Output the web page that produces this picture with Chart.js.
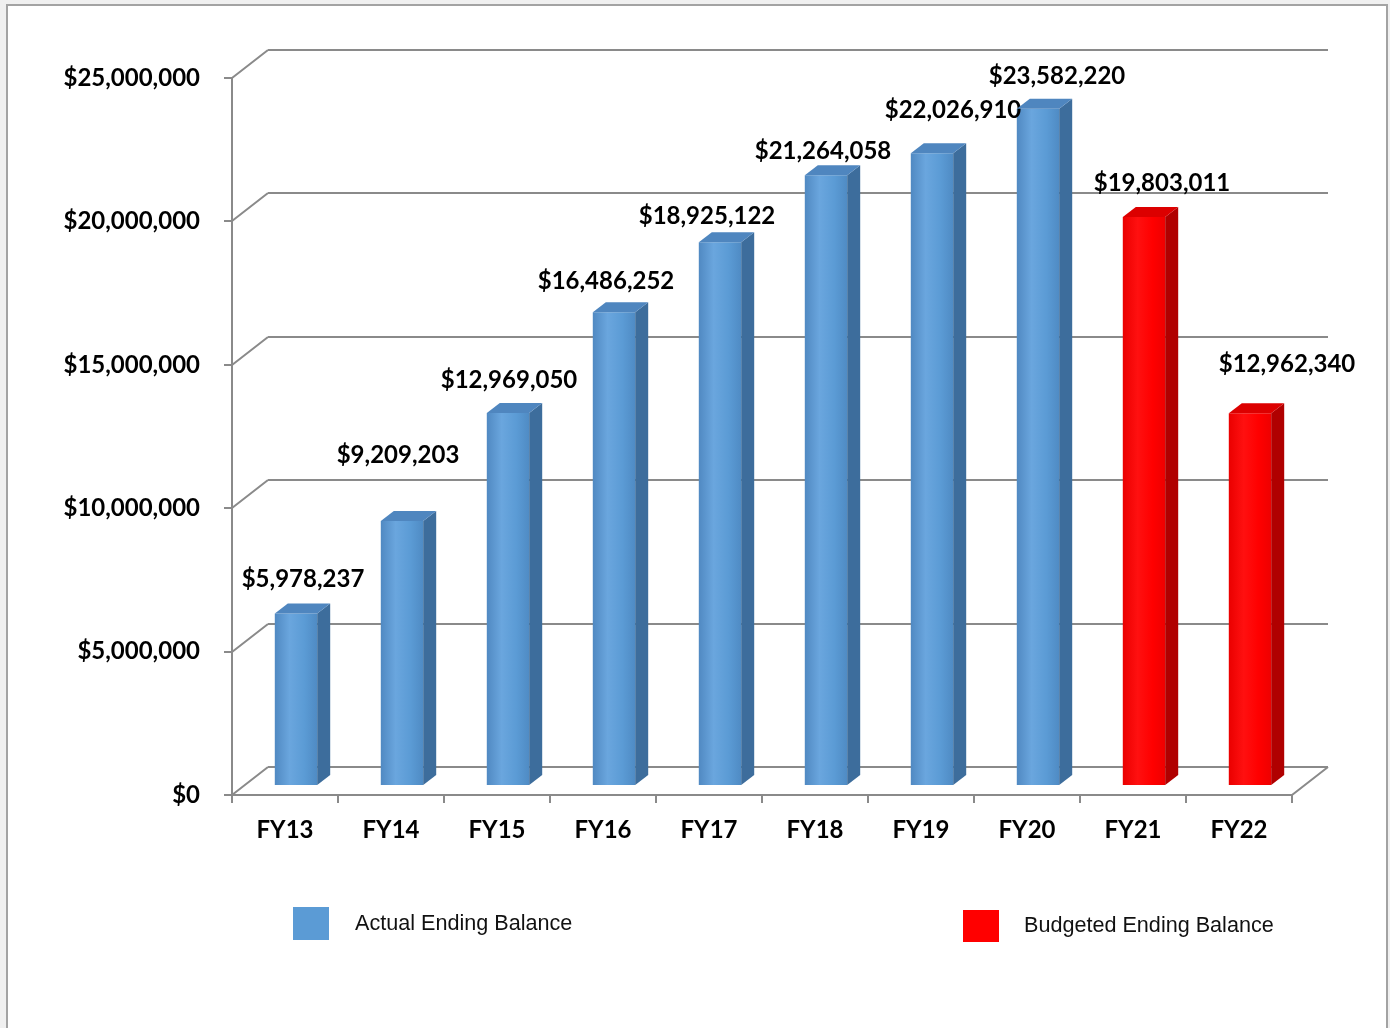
<!DOCTYPE html>
<html><head><meta charset="utf-8">
<script src="https://cdn.jsdelivr.net/npm/chart.js@4"></script>
<style>
html,body{margin:0;padding:0;background:#f0f0f0;overflow:hidden;width:1390px;height:1028px;}
#frame{position:absolute;left:6px;top:4px;width:1378px;height:1060px;border:2px solid #a3a3a3;background:#fff;}
#c{position:absolute;left:0;top:0;}
</style></head><body>
<div id="frame"></div>
<canvas id="c" width="1390" height="1028"></canvas>
<script>
// ---- data ----
const categories = ['FY13','FY14','FY15','FY16','FY17','FY18','FY19','FY20','FY21','FY22'];
const actualBalance = [5978237, 9209203, 12969050, 16486252, 18925122, 21264058, 22026910, 23582220, null, null];
const budgetedBalance = [null, null, null, null, null, null, null, null, 19803011, 12962340];
const seriesNames = ['Actual Ending Balance', 'Budgeted Ending Balance'];
const yTickValues = [0, 5000000, 10000000, 15000000, 20000000, 25000000];

// ---- presentation (not data) ----
const labelNudge = [[18,-24],[7,-56],[12,-23],[3,-21],[-2,-16],[8,-14],[32,-33],[30,-22],[29,-24],[48,-39]];
const WALL_DX = 36, WALL_DY = 28;   // depth of back wall
const BAR_SX = 11, BAR_SY = 10;     // bar front-face shift into depth
const BAR_DX = 13, BAR_DY = 10;     // bar depth
const BOLD = 'Lato';
const palette = {
  blue: {front: ['#5089c2', '#6aa6de', '#5b9bd5', '#4f8bc4'], side: '#3d6d9c', top: '#4f86bf', legend: '#5b9bd5'},
  red:  {front: ['#ea0000', '#ff1010', '#ff0000', '#ee0000'], side: '#b00000', top: '#dc0000', legend: '#ff0000'}
};

function money(v){ return '$' + Number(v).toLocaleString('en-US'); }

function frontGradient(pal){
  return function(c){
    const chart = c.chart;
    const xs = chart.scales.x;
    if (!xs || !chart.chartArea) return pal.front[2];
    const cx = xs.getPixelForValue(c.dataIndex);
    const w = (xs.right - xs.left) / categories.length * 0.4;
    const g = chart.ctx.createLinearGradient(cx - w/2, 0, cx + w/2, 0);
    g.addColorStop(0, pal.front[0]);
    g.addColorStop(0.35, pal.front[1]);
    g.addColorStop(0.7, pal.front[2]);
    g.addColorStop(1, pal.front[3]);
    return g;
  };
}

const threeD = {
  id: 'threeD',
  beforeDatasetsDraw(chart){
    const {ctx, chartArea: a, scales: {x, y}} = chart;
    ctx.save();
    ctx.strokeStyle = '#8a8a8a';
    ctx.lineWidth = 2;
    ctx.lineCap = 'butt';
    yTickValues.forEach(v => {
      const py = Math.round(y.getPixelForValue(v));
      ctx.beginPath();
      ctx.moveTo(a.left + WALL_DX, py - WALL_DY);
      ctx.lineTo(a.right + WALL_DX, py - WALL_DY);
      ctx.moveTo(a.left, py);
      ctx.lineTo(a.left + WALL_DX, py - WALL_DY);
      ctx.moveTo(a.left - 8, py);
      ctx.lineTo(a.left, py);
      ctx.stroke();
    });
    const y0 = Math.round(y.getPixelForValue(0));
    const yTop = Math.round(y.getPixelForValue(yTickValues[yTickValues.length-1]));
    ctx.beginPath();
    ctx.moveTo(a.left, yTop);
    ctx.lineTo(a.left, y0);
    ctx.moveTo(a.left, y0);
    ctx.lineTo(a.right, y0);
    ctx.lineTo(a.right + WALL_DX, y0 - WALL_DY);
    ctx.stroke();
    ctx.beginPath();
    const n = categories.length;
    for (let i = 0; i <= n; i++) {
      const px = Math.round(x.left + i * (x.right - x.left) / n);
      ctx.moveTo(px, y0);
      ctx.lineTo(px, y0 + 8);
    }
    ctx.stroke();
    ctx.restore();
    ctx.save();
    ctx.translate(BAR_SX, -BAR_SY);
  },
  afterDatasetsDraw(chart){
    const {ctx} = chart;
    ctx.restore();
    const pals = [palette.blue, palette.red];
    chart.data.datasets.forEach((ds, di) => {
      const meta = chart.getDatasetMeta(di);
      const pal = pals[di];
      meta.data.forEach((el, i) => {
        if (ds.data[i] == null) return;
        const p = el.getProps(['x','y','base','width'], true);
        const l = p.x - p.width/2 + BAR_SX, r = p.x + p.width/2 + BAR_SX;
        const t = p.y - BAR_SY, b = p.base - BAR_SY;
        ctx.fillStyle = pal.side;
        ctx.beginPath();
        ctx.moveTo(r, t); ctx.lineTo(r + BAR_DX, t - BAR_DY);
        ctx.lineTo(r + BAR_DX, b - BAR_DY); ctx.lineTo(r, b); ctx.closePath();
        ctx.fill();
        ctx.fillStyle = pal.top;
        ctx.beginPath();
        ctx.moveTo(l, t); ctx.lineTo(r, t);
        ctx.lineTo(r + BAR_DX, t - BAR_DY); ctx.lineTo(l + BAR_DX, t - BAR_DY); ctx.closePath();
        ctx.fill();
        const nud = labelNudge[i];
        ctx.save();
        ctx.font = 'bold 24px ' + BOLD;
        ctx.fillStyle = '#000';
        ctx.textAlign = 'center';
        ctx.textBaseline = 'middle';
        ctx.fillText(money(ds.data[i]), p.x + nud[0], t - BAR_DY + nud[1]);
        ctx.restore();
      });
    });
  },
  afterDraw(chart){
    const {ctx} = chart;
    const items = [
      {x: 293, y: 907, h: 33, tx: 355, ty: 924, color: palette.blue.legend, text: chart.data.datasets[0].label},
      {x: 963, y: 910, h: 32, tx: 1024, ty: 926, color: palette.red.legend, text: chart.data.datasets[1].label}
    ];
    ctx.save();
    items.forEach(it => {
      ctx.fillStyle = it.color;
      ctx.fillRect(it.x, it.y, 36, it.h);
      ctx.fillStyle = '#111';
      ctx.font = '21.6px "Liberation Sans", Arial, sans-serif';
      ctx.textAlign = 'left';
      ctx.textBaseline = 'middle';
      ctx.fillText(it.text, it.tx, it.ty);
    });
    ctx.restore();
  }
};

new Chart(document.getElementById('c'), {
  type: 'bar',
  data: {
    labels: categories,
    datasets: [
      {label: seriesNames[0], data: actualBalance, backgroundColor: frontGradient(palette.blue), grouped: false,
       barPercentage: 0.4, categoryPercentage: 1.0, borderWidth: 0},
      {label: seriesNames[1], data: budgetedBalance, backgroundColor: frontGradient(palette.red), grouped: false,
       barPercentage: 0.4, categoryPercentage: 1.0, borderWidth: 0}
    ]
  },
  options: {
    responsive: false,
    animation: false,
    layout: {padding: {left: 0, top: 78, right: 98, bottom: 0}},
    plugins: {legend: {display: false}, tooltip: {enabled: false}, title: {display: false}},
    scales: {
      x: {
        grid: {display: false, drawTicks: false},
        border: {display: false},
        ticks: {color: '#000', font: {family: BOLD, weight: 'bold', size: 24}, padding: 21},
        afterFit(s){ s.height = 1028 - 795; }
      },
      y: {
        min: 0, max: 25000000,
        grid: {display: false, drawTicks: false},
        border: {display: false},
        afterBuildTicks(s){ s.ticks = yTickValues.map(v => ({value: v})); },
        ticks: {color: '#000', font: {family: BOLD, weight: 'bold', size: 24}, padding: 32, callback: v => money(v)},
        afterFit(s){ s.width = 232; }
      }
    }
  },
  plugins: [threeD]
});
</script>
</body></html>
